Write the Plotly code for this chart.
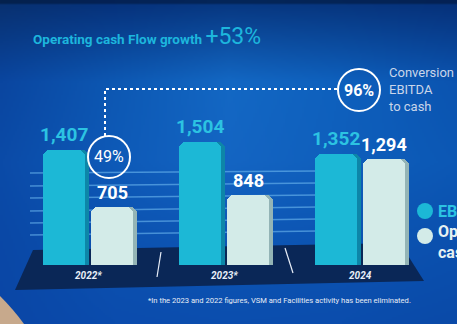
import base64
import struct
import zlib

import numpy as np
import plotly.graph_objects as go

# ---- data -------------------------------------------------------------
years = ["2022*", "2023*", "2024"]
ebitda = [1407, 1504, 1352]
op_cash = [705, 848, 1294]
conversion_labels = ["49%", "96%"]
series_names = ["EBITDA", "Operating<br>cash flow"]

W, H = 457, 324

# colours
C_EBITDA = "#1cb8d6"
C_EBITDA_SIDE = "#0d86a8"
C_EBITDA_TEXT = "#2cc3e2"
C_OCF = "#d3ebe8"
C_OCF_SIDE = "#93b4b6"
C_FLOOR = "#0a2757"


# ---- background gradient as an inline PNG -------------------------------
def hex_rgb(h):
    h = h.lstrip("#")
    return [int(h[i:i + 2], 16) for i in (0, 2, 4)]


bg_grid = [
    ["#08306f", "#06317a", "#07367f", "#07347c", "#063078"],
    ["#0a46a0", "#0d58b3", "#1368c4", "#0e60bd", "#0b54b0"],
    ["#0b4ba8", "#0e5ab8", "#1465c3", "#0f5fbc", "#0c58b5"],
    ["#0a48a6", "#0c52b0", "#0d56b5", "#0c54b2", "#0b50ae"],
    ["#0a46a6", "#0b4cad", "#0b4eae", "#0b4dad", "#0a4aa8"],
]
grid = np.array([[hex_rgb(c) for c in row] for row in bg_grid], dtype=float)


def upsample(g, out_h, out_w):
    gh, gw, _ = g.shape
    ys = np.linspace(0, gh - 1, out_h)
    xs = np.linspace(0, gw - 1, out_w)
    tmp = np.empty((gh, out_w, 3))
    for r in range(gh):
        for ch in range(3):
            tmp[r, :, ch] = np.interp(xs, np.arange(gw), g[r, :, ch])
    out = np.empty((out_h, out_w, 3))
    for c in range(out_w):
        for ch in range(3):
            out[:, c, ch] = np.interp(ys, np.arange(gh), tmp[:, c, ch])
    return out.clip(0, 255).astype(np.uint8)


def png_uri(img):
    h, w, _ = img.shape
    raw = b"".join(b"\x00" + img[r].tobytes() for r in range(h))

    def chunk(tag, data):
        c = struct.pack(">I", len(data)) + tag + data
        return c + struct.pack(">I", zlib.crc32(tag + data) & 0xFFFFFFFF)

    png = b"\x89PNG\r\n\x1a\n"
    png += chunk(b"IHDR", struct.pack(">IIBBBBB", w, h, 8, 2, 0, 0, 0))
    png += chunk(b"IDAT", zlib.compress(raw, 9))
    png += chunk(b"IEND", b"")
    return "data:image/png;base64," + base64.b64encode(png).decode()


bg_img = upsample(grid, 162, 229)
# darker band along the very top edge
bg_img[:2] = (bg_img[:2] * 0.7).astype(np.uint8)

# ---- axes geometry ------------------------------------------------------
px_per_group = 136.0
first_center_px = 88.0
x_range = [-first_center_px / px_per_group, (W - first_center_px) / px_per_group]
baseline_px = 265.0
px_per_unit = 0.082
y_range = [-(H - baseline_px) / px_per_unit, baseline_px / px_per_unit]

bar_w = 42 / px_per_group
pair_off = 24 / px_per_group
side_dx = 4 / px_per_group

gx = np.arange(len(years))
x_e = gx - pair_off
x_o = gx + pair_off

fig = go.Figure()

# side faces (give the bars some depth)
fig.add_trace(go.Bar(x=x_e + side_dx, y=ebitda, width=bar_w,
                     marker=dict(color=C_EBITDA_SIDE, cornerradius=7, line_width=0),
                     hoverinfo="skip", showlegend=False))
fig.add_trace(go.Bar(x=x_o + side_dx, y=op_cash, width=bar_w,
                     marker=dict(color=C_OCF_SIDE, cornerradius=7, line_width=0),
                     hoverinfo="skip", showlegend=False))
# front faces
fig.add_trace(go.Bar(x=x_e, y=ebitda, width=bar_w, name="EBITDA",
                     marker=dict(color=C_EBITDA, cornerradius=7, line_width=0),
                     showlegend=False))
fig.add_trace(go.Bar(x=x_o, y=op_cash, width=bar_w, name="Operating cash flow",
                     marker=dict(color=C_OCF, cornerradius=7, line_width=0),
                     showlegend=False))

annotations = []
FONT = "Roboto"

# value labels
for xi, v in zip(x_e, ebitda):
    annotations.append(dict(x=xi, y=v, xref="x", yref="y", text=f"<b>{v:,}</b>",
                            showarrow=False, xanchor="center", yanchor="bottom", yshift=2,
                            font=dict(family=FONT, size=19, color=C_EBITDA_TEXT)))
for xi, v in zip(x_o, op_cash):
    annotations.append(dict(x=xi, y=v, xref="x", yref="y", text=f"<b>{v:,}</b>",
                            showarrow=False, xanchor="center", yanchor="bottom", yshift=2,
                            font=dict(family=FONT, size=18, color="#ffffff")))

# year labels on the floor
for xi, yr in zip(gx, years):
    annotations.append(dict(x=xi, y=0, xref="x", yref="y", text=f"<b><i>{yr}</i></b>",
                            showarrow=False, xanchor="center", yanchor="top", yshift=-3,
                            font=dict(family=FONT, size=10, color="#e8eef8")))


def px_x(p):
    return p / W


def px_y(p):
    return 1 - p / H


def note(xp, yp, text, size, color, xanchor="center", yanchor="middle", align="center"):
    annotations.append(dict(x=px_x(xp), y=px_y(yp), xref="paper", yref="paper",
                            xanchor=xanchor, yanchor=yanchor, align=align,
                            showarrow=False, text=text,
                            font=dict(family=FONT, size=size, color=color)))


# title
note(31, 36, "<b>Operating cash Flow growth</b> <span style='font-size:23px'>+53%</span>",
     13.5, "#1db6dd", xanchor="left")

# conversion circles
note(109, 157, conversion_labels[0], 16, "#ffffff")
note(359, 90, f"<b>{conversion_labels[1]}</b>", 16, "#ffffff")
note(387, 89, "Conversion<br>EBITDA<br>to cash", 13, "#c9d6ea", xanchor="left", align="left")

# legend
note(436, 211, f"<b>{series_names[0]}</b>", 16, C_EBITDA_TEXT, xanchor="left")
note(436, 242, f"<b>{series_names[1]}</b>", 16, "#e6f1f2", xanchor="left", align="left")

# footnote
note(279, 300, "*In the 2023 and 2022 figures, VSM and Facilities activity has been eliminated.",
     7.6, "#e6ecf6")

shapes = []
# floor
shapes.append(dict(type="path", xref="paper", yref="paper", layer="below",
                   path=f"M {px_x(33)} {px_y(250)} L {px_x(400)} {px_y(243)} "
                        f"L {px_x(424)} {px_y(281)} L {px_x(15)} {px_y(290)} Z",
                   fillcolor=C_FLOOR, line_width=0))
# faint horizontal guide lines
for yl, yr in [(173, 171), (186, 183), (198, 195), (211, 207), (223, 219), (235, 231)]:
    shapes.append(dict(type="line", xref="paper", yref="paper", layer="below",
                       x0=px_x(30), x1=px_x(318), y0=px_y(yl), y1=px_y(yr),
                       line=dict(color="rgba(110,185,240,0.6)", width=1.3)))
# group separators
for (xa, ya, xb, yb) in [(161, 252, 157, 277), (285, 248, 293, 273)]:
    shapes.append(dict(type="line", xref="paper", yref="paper",
                       x0=px_x(xa), y0=px_y(ya), x1=px_x(xb), y1=px_y(yb),
                       line=dict(color="#e8eef8", width=1.2)))
# dotted connector
shapes.append(dict(type="path", xref="paper", yref="paper",
                   path=f"M {px_x(105)} {px_y(136)} L {px_x(105)} {px_y(89)} L {px_x(338)} {px_y(89)}",
                   line=dict(color="#ffffff", width=2, dash="dot")))
# circles
for cx, cy, r in [(109, 157, 21), (359, 90, 21)]:
    shapes.append(dict(type="circle", xref="paper", yref="paper",
                       x0=px_x(cx - r), x1=px_x(cx + r), y0=px_y(cy + r), y1=px_y(cy - r),
                       line=dict(color="#ffffff", width=2), fillcolor="rgba(0,0,0,0)"))
# legend markers
for cy, col in [(211, C_EBITDA), (236, C_OCF)]:
    shapes.append(dict(type="circle", xref="paper", yref="paper",
                       x0=px_x(417), x1=px_x(433), y0=px_y(cy + 8), y1=px_y(cy - 8),
                       line_width=0, fillcolor=col))
# warm corner at the bottom left
shapes.append(dict(type="path", xref="paper", yref="paper",
                   path=f"M 0 {px_y(296)} Q {px_x(14)} {px_y(310)} {px_x(24)} {px_y(324)} L 0 0 Z",
                   fillcolor="#c7a98c", line_width=0))

fig.update_layout(
    width=W, height=H,
    margin=dict(l=0, r=0, t=0, b=0),
    paper_bgcolor="#0a4aa8",
    plot_bgcolor="rgba(0,0,0,0)",
    barmode="overlay",
    bargap=0,
    xaxis=dict(range=x_range, visible=False, fixedrange=True),
    yaxis=dict(range=y_range, visible=False, fixedrange=True),
    images=[dict(source=png_uri(bg_img), xref="paper", yref="paper",
                 x=0, y=1, sizex=1, sizey=1, sizing="stretch",
                 xanchor="left", yanchor="top", layer="below")],
    shapes=shapes,
    annotations=annotations,
    showlegend=False,
)

fig.write_html("out.html")
